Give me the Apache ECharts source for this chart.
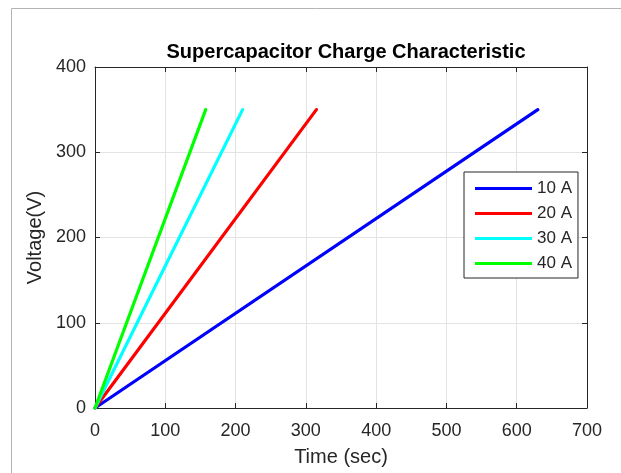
<!DOCTYPE html>
<html>
<head>
<meta charset="utf-8">
<script src="https://cdn.jsdelivr.net/npm/echarts@6/dist/echarts.min.js"></script>
<style>
  html, body { margin: 0; padding: 0; background: #fff; }
  #chart { width: 621px; height: 473px; }
</style>
</head>
<body>
<div id="chart"></div>
<script>
// Charging current for each curve and the time (s) at which it reaches the final voltage
const seriesNames = ['10 A', '20 A', '30 A', '40 A'];
const endTimes = [630, 315, 210, 157.5];
const startVoltage = 0;
const endVoltage = 350;
const lineColors = ['#0000ff', '#ff0000', '#00ffff', '#00ff00'];

const xTicks = [0, 100, 200, 300, 400, 500, 600, 700];
const yTicks = [0, 100, 200, 300, 400];

const FONT = "'Liberation Sans', Arial, Helvetica, sans-serif";
const INK = '#262626';

const chart = echarts.init(document.getElementById('chart'), null, { renderer: 'canvas' });

const series = seriesNames.map((name, i) => ({
  name: name,
  type: 'line',
  data: [[0, startVoltage], [endTimes[i], endVoltage]],
  showSymbol: false,
  lineStyle: { color: lineColors[i], width: 3.2, cap: 'round' },
  itemStyle: { color: lineColors[i] },
  animation: false
}));

const axisCommon = {
  type: 'value',
  axisLine: { show: true, onZero: false, lineStyle: { color: INK, width: 1 } },
  axisTick: { show: true, inside: true, length: 5, lineStyle: { color: INK } },
  splitLine: { show: false }
};

const option = {
  backgroundColor: '#fff',
  animation: false,
  title: {
    text: 'Supercapacitor Charge Characteristic',
    left: 341,
    top: 37,
    textAlign: 'center',
    textStyle: { fontFamily: FONT, fontSize: 20, fontWeight: 'bold', color: '#000' }
  },
  grid: { left: 95, right: 34, top: 67, bottom: 65, containLabel: false },
  legend: {
    orient: 'vertical',
    left: 464,
    top: 172,
    data: seriesNames,
    icon: 'rect',
    itemWidth: 57,
    itemHeight: 3,
    itemGap: 8,
    padding: [8, 6, 6, 11],
    backgroundColor: '#fff',
    borderColor: INK,
    borderWidth: 1,
    borderRadius: 0,
    textStyle: { fontFamily: FONT, fontSize: 17, color: INK, lineHeight: 17, padding: [0, 0, 0, 0] }
  },
  xAxis: [
    Object.assign({}, axisCommon, {
      min: xTicks[0], max: xTicks[xTicks.length - 1], interval: 100,
      position: 'bottom',
      name: 'Time (sec)',
      nameLocation: 'middle',
      nameGap: 39,
      nameTextStyle: { fontFamily: FONT, fontSize: 20, color: INK },
      axisLabel: { margin: 14, fontFamily: FONT, fontSize: 18, color: INK },
      splitLine: { show: true, lineStyle: { color: '#e3e3e3', width: 1 } }
    }),
    Object.assign({}, axisCommon, {
      min: xTicks[0], max: xTicks[xTicks.length - 1], interval: 100,
      position: 'top',
      axisLabel: { show: false }
    })
  ],
  yAxis: [
    Object.assign({}, axisCommon, {
      min: yTicks[0], max: yTicks[yTicks.length - 1], interval: 100,
      position: 'left',
      name: 'Voltage(V)',
      nameLocation: 'middle',
      nameGap: 48,
      nameTextStyle: { fontFamily: FONT, fontSize: 20, color: INK },
      axisLabel: { margin: 9, fontFamily: FONT, fontSize: 18, color: INK },
      splitLine: { show: true, lineStyle: { color: '#e3e3e3', width: 1 } }
    }),
    Object.assign({}, axisCommon, {
      min: yTicks[0], max: yTicks[yTicks.length - 1], interval: 100,
      position: 'right',
      axisLabel: { show: false }
    })
  ],
  graphic: [
    {
      type: 'rect',
      silent: true,
      z: -10,
      shape: { x: 11.5, y: 8.5, width: 640, height: 500 },
      style: { fill: 'none', stroke: '#b4b4b4', lineWidth: 1 }
    }
  ],
  series: series
};

chart.setOption(option);
</script>
</body>
</html>
